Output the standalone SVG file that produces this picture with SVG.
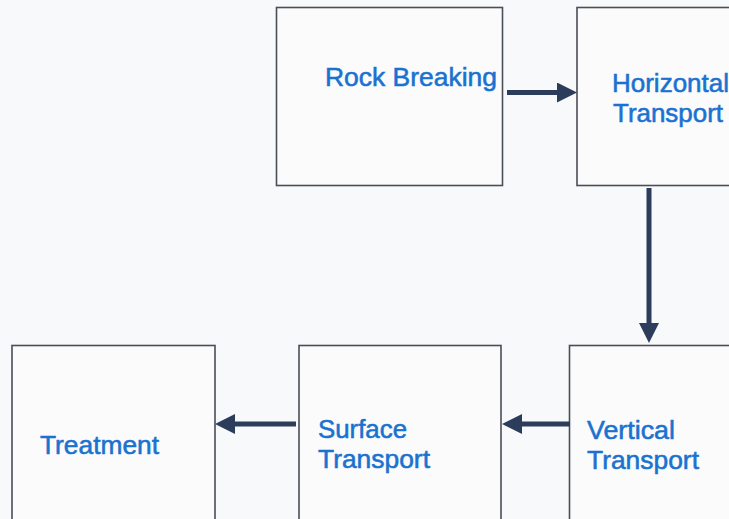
<svg xmlns="http://www.w3.org/2000/svg" width="729" height="519" viewBox="0 0 729 519">
  <style>
    .box { fill: #fbfbfc; stroke: #4a4e57; stroke-width: 1.6; }
    .lbl { font-family: "Liberation Sans", Arial, sans-serif; font-size: 25.5px; fill: #1a72d0; stroke: #1a72d0; stroke-width: 0.55; }
    .flow { stroke: #2c3d5c; stroke-width: 5; fill: none; marker-end: url(#head); }
  </style>
  <defs>
    <marker id="head" viewBox="0 0 20 20" refX="0" refY="10" markerWidth="20" markerHeight="20" markerUnits="userSpaceOnUse" orient="auto">
      <path d="M0,0 L20,10 L0,20 Z" fill="#2c3d5c"/>
    </marker>
  </defs>

  <rect x="0" y="0" width="729" height="519" fill="#f8f9fa"/>

  <g id="rock-breaking">
    <rect class="box" x="276.5" y="7.5" width="226" height="178"/>
    <text class="lbl" x="325" y="85.5" textLength="172" lengthAdjust="spacingAndGlyphs">Rock Breaking</text>
  </g>

  <g id="horizontal-transport">
    <rect class="box" x="577" y="7.5" width="170" height="178"/>
    <text class="lbl" x="612" y="91.5" textLength="117" lengthAdjust="spacingAndGlyphs">Horizontal</text>
    <text class="lbl" x="613" y="122" textLength="110" lengthAdjust="spacingAndGlyphs">Transport</text>
  </g>

  <g id="vertical-transport">
    <rect class="box" x="569.5" y="345.5" width="180" height="190"/>
    <text class="lbl" x="587" y="438.5" textLength="88" lengthAdjust="spacingAndGlyphs">Vertical</text>
    <text class="lbl" x="587" y="468.5" textLength="112" lengthAdjust="spacingAndGlyphs">Transport</text>
  </g>

  <g id="surface-transport">
    <rect class="box" x="299" y="345.5" width="202" height="190"/>
    <text class="lbl" x="318" y="438" textLength="89" lengthAdjust="spacingAndGlyphs">Surface</text>
    <text class="lbl" x="318" y="468" textLength="112" lengthAdjust="spacingAndGlyphs">Transport</text>
  </g>

  <g id="treatment">
    <rect class="box" x="12" y="345.5" width="203" height="190"/>
    <text class="lbl" x="40" y="454" textLength="119" lengthAdjust="spacingAndGlyphs">Treatment</text>
  </g>

  <g id="connectors">
    <line class="flow" x1="507" y1="92.5" x2="557" y2="92.5"/>
    <line class="flow" x1="649" y1="188" x2="649" y2="323"/>
    <line class="flow" x1="570" y1="424" x2="522" y2="424"/>
    <line class="flow" x1="296" y1="424" x2="235" y2="424"/>
  </g>
</svg>
